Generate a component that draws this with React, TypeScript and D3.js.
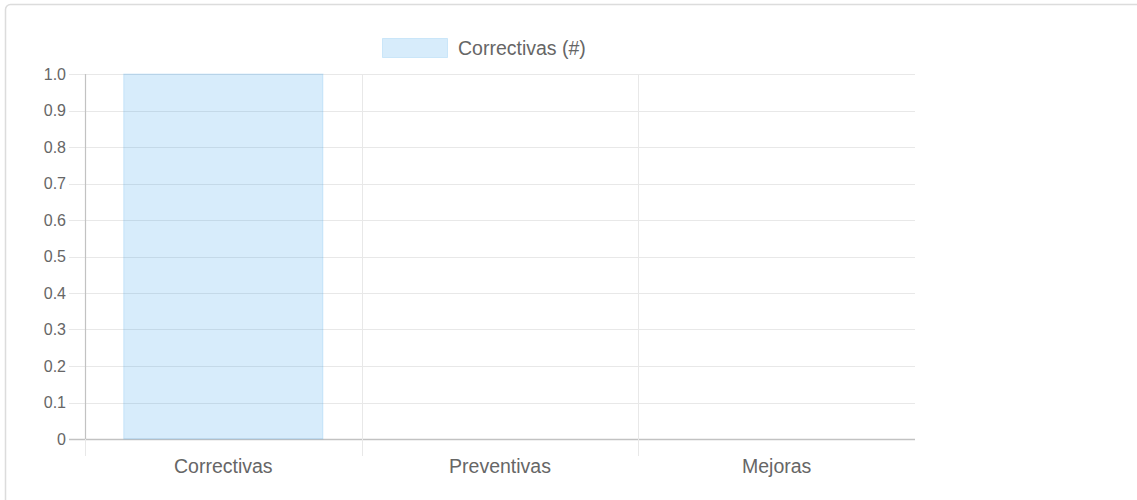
import React from "react";
import * as d3 from "d3";

const categories = ["Correctivas", "Preventivas", "Mejoras"];
const values = [1, 0, 0];
const seriesName = "Correctivas (#)";
const yTicks = [0, 0.1, 0.2, 0.3, 0.4, 0.5, 0.6, 0.7, 0.8, 0.9, 1.0];

const W = 1137;
const H = 500;
const left = 85;
const right = 915;
const top = 74;
const bottom = 439;
const tickLen = 16;
const textColor = "#666";
const gridColor = "#e8e8e8";
const axisColor = "#c2c2c2";
const barFill = "rgba(54,162,235,0.2)";
const barStroke = "rgba(54,162,235,0.18)";
const font = "'Liberation Sans', Arial, Helvetica, sans-serif";

export default function App() {
  const x = d3.scaleBand<string>().domain(categories).range([left, right]).paddingInner(0).paddingOuter(0);
  const y = d3.scaleLinear().domain([0, 1]).range([bottom, top]);
  const bw = x.bandwidth();
  const barW = bw * 0.72;

  const fmt = (v: number) => (v === 0 ? "0" : d3.format(".1f")(v));

  return (
    <svg width={W} height={H} style={{ position: "absolute", left: 0, top: 0, background: "#fff" }}>
      {/* card */}
      <rect x={5.5} y={4.5} width={W + 20} height={H + 20} rx={5} ry={5} fill="#fff" stroke="#dcdcdc" strokeWidth={1.5} />

      {/* legend */}
      <rect x={382.5} y={38.5} width={65} height={19} fill={barFill} stroke={barStroke} strokeWidth={1} />
      <text x={458} y={48} dominantBaseline="central" fontFamily={font} fontSize={19.5} fill={textColor}>
        {seriesName}
      </text>

      {/* horizontal gridlines */}
      {yTicks.map((t) => (
        <line
          key={"h" + t}
          x1={left - tickLen}
          x2={right}
          y1={Math.round(y(t)) + 0.5}
          y2={Math.round(y(t)) + 0.5}
          stroke={t === 0 ? axisColor : gridColor}
          strokeWidth={t === 0 ? 1.5 : 1}
        />
      ))}

      {/* vertical gridlines (category boundaries) */}
      {categories.map((c) => (
        <line
          key={"v" + c}
          x1={Math.round(x(c)!) + 0.5}
          x2={Math.round(x(c)!) + 0.5}
          y1={top}
          y2={bottom + tickLen + 1}
          stroke={gridColor}
          strokeWidth={1}
        />
      ))}

      {/* y axis line */}
      <line x1={left + 0.5} x2={left + 0.5} y1={top} y2={bottom} stroke={axisColor} strokeWidth={1.2} />

      {/* bars */}
      {categories.map((c, i) => (
        <rect
          key={"b" + c}
          x={x(c)! + (bw - barW) / 2}
          y={y(values[i])}
          width={barW}
          height={bottom - y(values[i])}
          fill={barFill}
          stroke={values[i] > 0 ? barStroke : "none"}
          strokeWidth={1}
        />
      ))}

      {/* y tick labels */}
      {yTicks.map((t) => (
        <text
          key={"yl" + t}
          x={66}
          y={y(t)}
          textAnchor="end"
          dominantBaseline="central"
          fontFamily={font}
          fontSize={16}
          fill={textColor}
        >
          {fmt(t)}
        </text>
      ))}

      {/* x tick labels */}
      {categories.map((c) => (
        <text
          key={"xl" + c}
          x={x(c)! + bw / 2}
          y={466}
          textAnchor="middle"
          dominantBaseline="central"
          fontFamily={font}
          fontSize={19.5}
          fill={textColor}
        >
          {c}
        </text>
      ))}
    </svg>
  );
}
